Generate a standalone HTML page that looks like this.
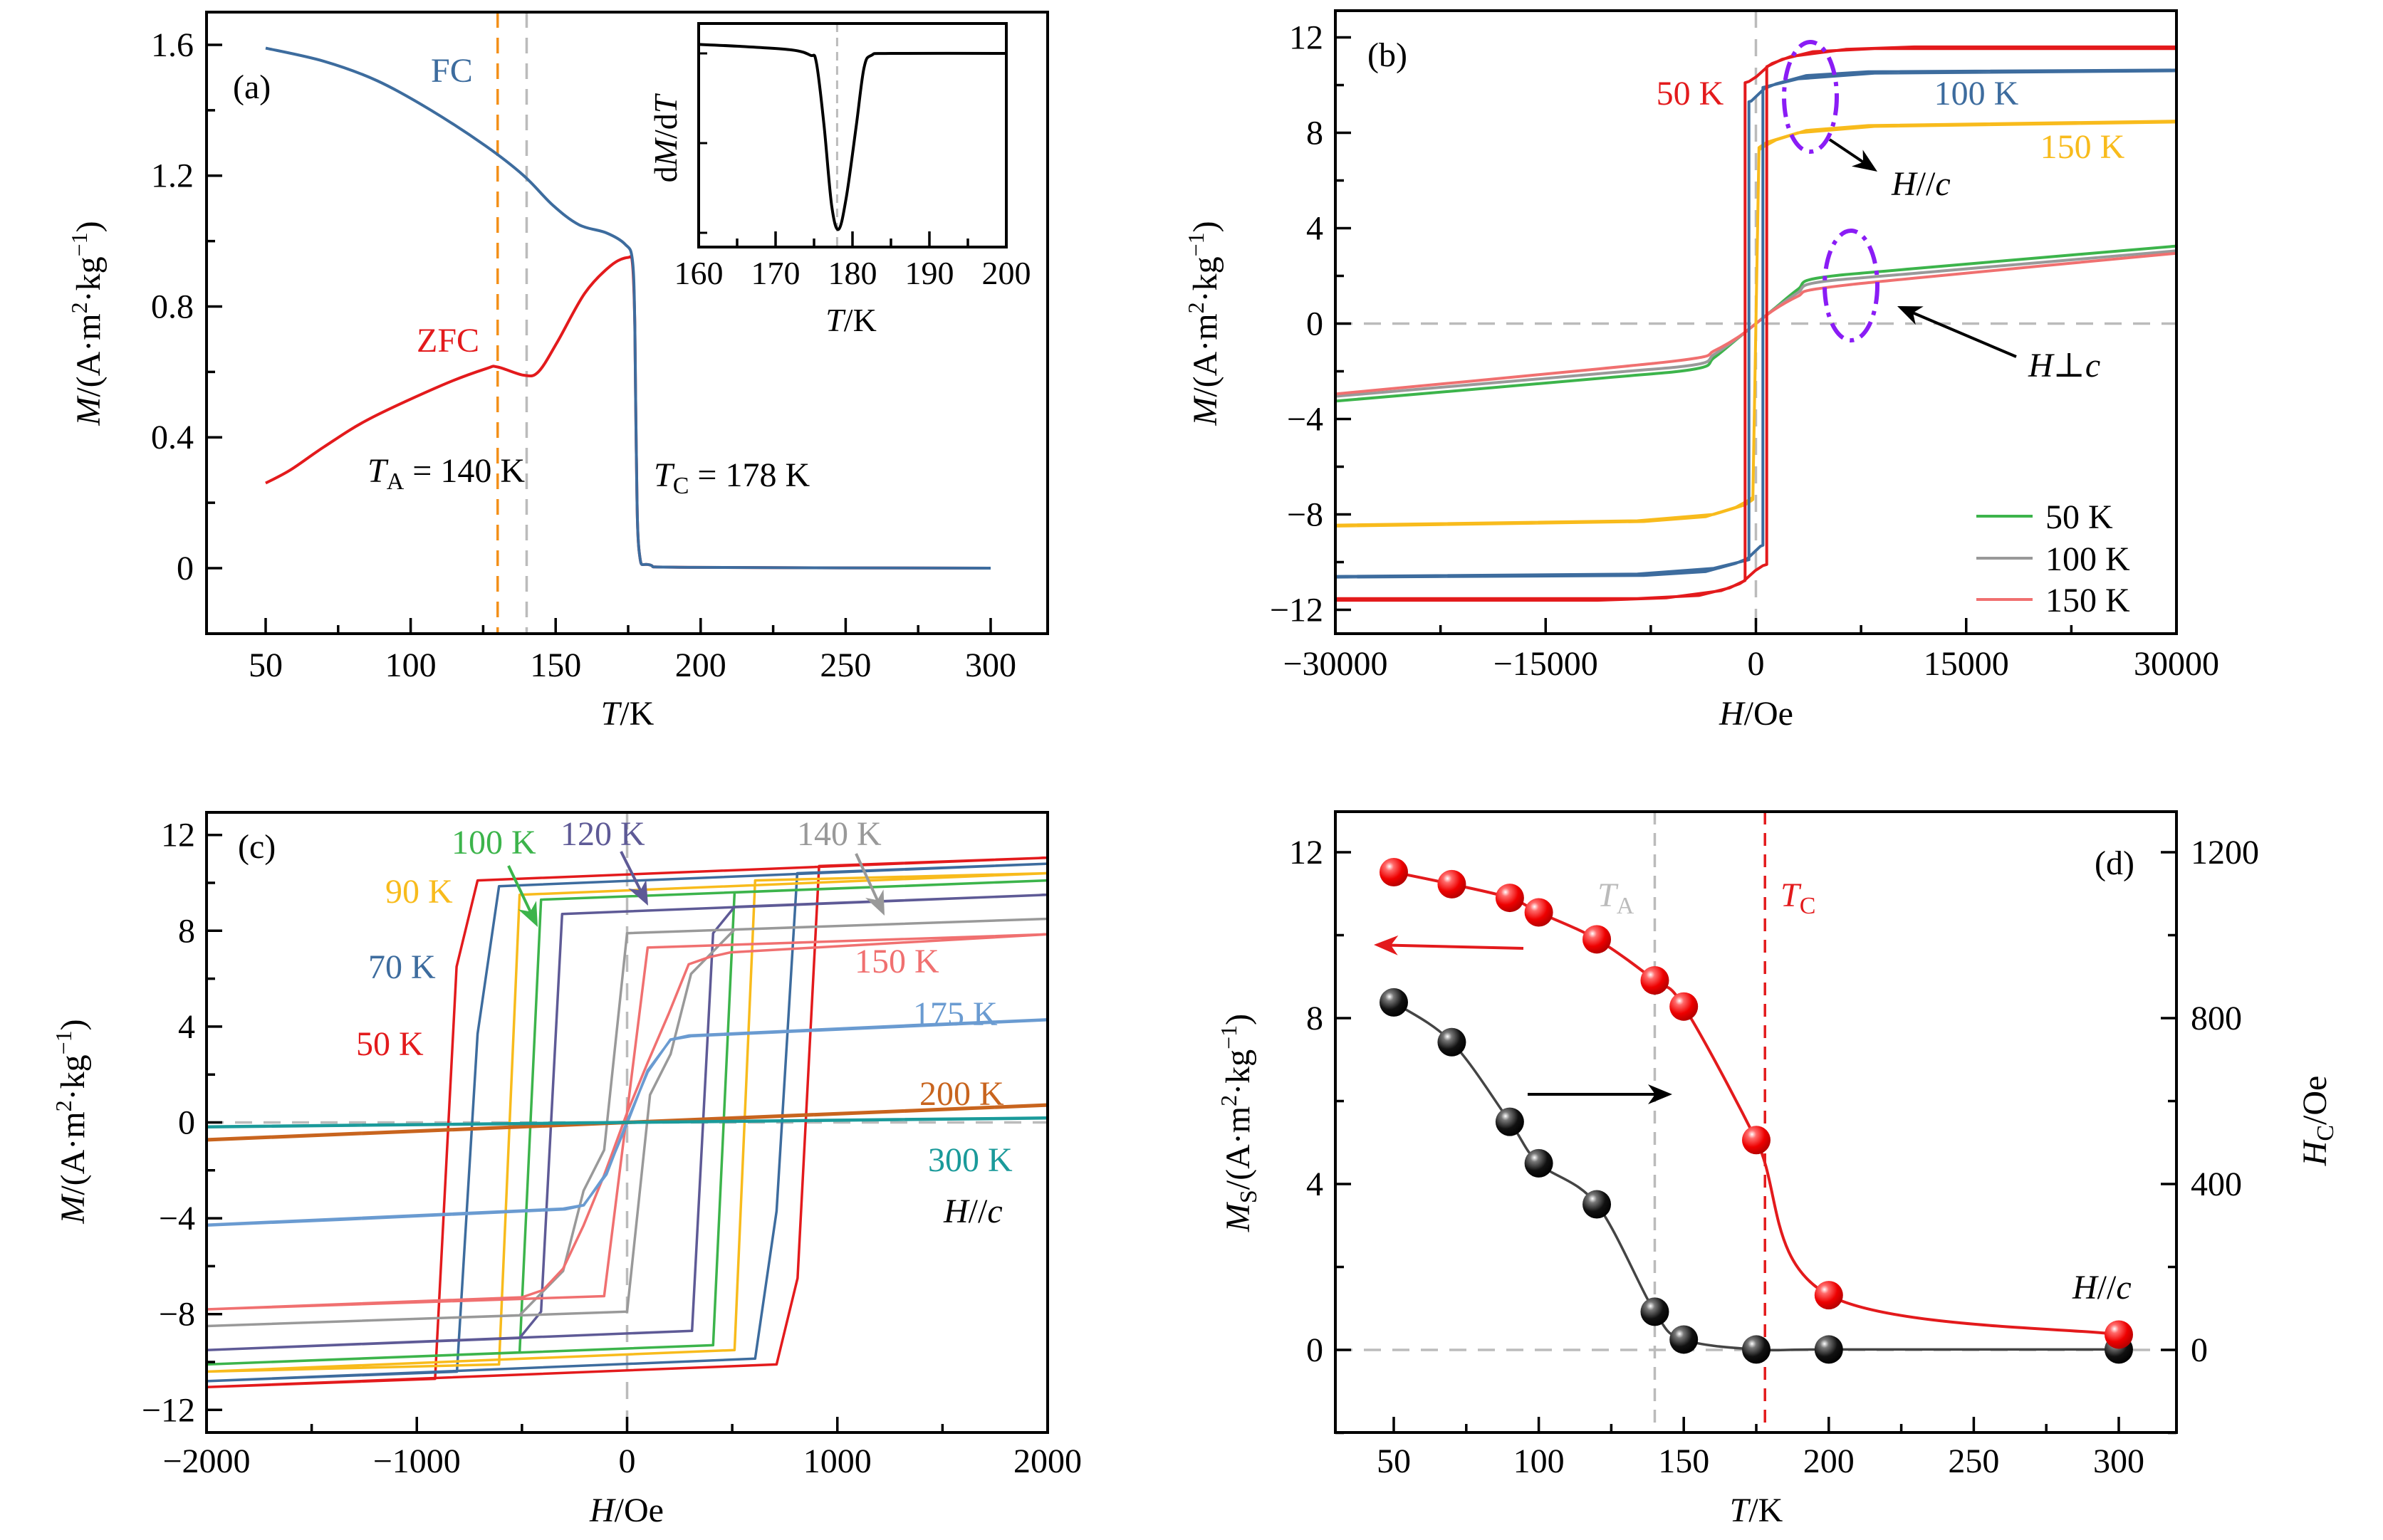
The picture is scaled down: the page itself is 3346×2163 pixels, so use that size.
<!DOCTYPE html>
<html><head><meta charset="utf-8"><style>
html,body{margin:0;padding:0;background:#fff;}
svg{display:block;font-family:"Liberation Serif","DejaVu Serif",serif;}
</style></head><body>
<svg id="chart" xmlns="http://www.w3.org/2000/svg" width="3346" height="2163" viewBox="0 0 3346 2163">
<defs>
<radialGradient id="gRed" cx="0.35" cy="0.3" r="0.75"><stop offset="0" stop-color="#fff"/><stop offset="0.2" stop-color="#ff6a6a"/><stop offset="0.6" stop-color="#ee0000"/><stop offset="1" stop-color="#b00000"/></radialGradient>
<radialGradient id="gBlk" cx="0.35" cy="0.3" r="0.75"><stop offset="0" stop-color="#fff"/><stop offset="0.2" stop-color="#777"/><stop offset="0.6" stop-color="#111"/><stop offset="1" stop-color="#000"/></radialGradient>
</defs>
</svg>
<script>
// ---------- data ----------
const fcT = [50,70,88.5,107,126,139,149,158,167.5,174,176.5,177.3,177.8,178.8,182.5,197.5,300];
const fcM = [1.59,1.55,1.49,1.40,1.29,1.20,1.11,1.05,1.025,0.99,0.94,0.74,0.36,0.05,0.01,0.0025,0];
const zfcT = [50,58.5,70,85.7,111,126,130,139,144,150.5,160,169,175,176.5,177.3,177.8,178.8,182.5,197.5,300];
const zfcM = [0.26,0.30,0.37,0.456,0.56,0.61,0.615,0.59,0.60,0.69,0.84,0.925,0.95,0.93,0.74,0.36,0.05,0.01,0.0025,0];
const insT = [160,165,172,174.5,175.3,176.3,177.3,178.2,179.2,180.5,181.5,182.5,185,200];
const insV = [0.05,0.04,0.02,-0.01,-0.05,-0.4,-0.85,-0.98,-0.8,-0.4,-0.08,-0.01,0,0];
const b50H = [30000,11300,6400,2500,1150,880,55,-500,-770,-770,-1870,-4070,-8460,-30000];
const b50M = [11.6,11.6,11.5,11.2,10.9,10.8,10.36,10.15,10.1,-10.77,-11.08,-11.4,-11.53,-11.53];
const b100H = [30000,8000,3600,1430,600,-330,-500,-500,-3000,-8460,-30000];
const b100M = [10.63,10.56,10.4,10.05,9.85,9.33,9.3,-9.9,-10.26,-10.5,-10.6];
const b150H = [30000,8000,3600,1430,440,220,-220,-770,-3000,-8460,-30000];
const b150M = [8.49,8.3,8.1,7.7,7.38,7.28,-7.38,-7.6,-8.0,-8.27,-8.45];
const perpH = [0,1300,3000,4300,11200,30000];
const perp50 = [0,0.62,1.44,1.9,2.3,3.25];
const perp100 = [0,0.6,1.3,1.72,2.1,3.05];
const perp150 = [0,0.58,1.15,1.45,1.9,2.95];
const c50H=[2000,-711,-811,-913,-2000], c50M=[11.05,10.1,6.5,-10.7,-11.05];
const c70H=[2000,-609,-711,-809,-2000], c70M=[10.8,9.86,3.7,-10.4,-10.8];
const c90H=[2000,-511,-609,-2000], c90M=[10.4,9.5,-10.1,-10.4];
const c100H=[2000,-409,-511,-2000], c100M=[10.1,9.3,-9.6,-10.1];
const c120H=[2000,-309,-409,-511,-2000], c120M=[9.5,8.7,-7.9,-9.0,-9.5];
const c140H=[2000,0,-109,-207,-304,-511,-2000], c140M=[8.5,7.9,-1.15,-2.85,-6.2,-8.05,-8.5];
const c150H=[2000,493,391,293,196,98,0,-109,-207,-304,-400,-500,-2000];
const c150M=[7.85,7.1,6.9,6.6,4.5,2.5,0.4,-2.2,-4.3,-6.1,-7.0,-7.3,-7.8];
const c150LH=[-2000,-109,98,2000], c150LM=[-7.8,-7.25,7.3,7.85];
const c175H=[2000,1354,293,206,98,0,-98,-207,-304,-2000], c175M=[4.3,4.06,3.63,3.46,2.1,0.05,-2.17,-3.45,-3.6,-4.27];
const c200H=[2000,-2000], c200M=[0.75,-0.7];
const c300H=[2000,-2000], c300M=[0.2,-0.17];
const dT = [50,70,90,100,120,140,150,175,200,300];
const dMs = [11.52,11.23,10.9,10.55,9.9,8.91,8.28,5.06,1.32,0.37];
const dHc = [838,742,550,450,351,92,25,1,1,1];
const aXT=[50,100,150,200,250,300], aYT=[0,0.4,0.8,1.2,1.6];
const bXT=[-30000,-15000,0,15000,30000], bYT=[-12,-8,-4,0,4,8,12];
const cXT=[-2000,-1000,0,1000,2000], cYT=[-12,-8,-4,0,4,8,12];
const dXT=[50,100,150,200,250,300], dYT=[0,4,8,12], dRT=[0,400,800,1200];
const insXT=[160,170,180,190,200];

// ---------- helpers ----------
const NS='http://www.w3.org/2000/svg';
const svg=document.getElementById('chart');
function mk(tag,attrs,parent){const e=document.createElementNS(NS,tag);for(const k in attrs)e.setAttribute(k,attrs[k]);(parent||svg).appendChild(e);return e;}
function fmtNeg(v){return String(v).replace('-','\u2212');}
function pathFrom(xs,ys,fx,fy){return xs.map((x,i)=>(i?'L':'M')+fx(x).toFixed(1)+','+fy(ys[i]).toFixed(1)).join(' ');}
function smoothPath(xs,ys,fx,fy){const P=xs.map((x,i)=>[fx(x),fy(ys[i])]);let d='M'+P[0][0]+','+P[0][1];
 for(let i=0;i<P.length-1;i++){const p0=P[Math.max(0,i-1)],p1=P[i],p2=P[i+1],p3=P[Math.min(P.length-1,i+2)];
 const c1=[p1[0]+(p2[0]-p0[0])/6,p1[1]+(p2[1]-p0[1])/6],c2=[p2[0]-(p3[0]-p1[0])/6,p2[1]-(p3[1]-p1[1])/6];
 d+=' C'+c1[0].toFixed(1)+','+c1[1].toFixed(1)+' '+c2[0].toFixed(1)+','+c2[1].toFixed(1)+' '+p2[0].toFixed(1)+','+p2[1].toFixed(1);}return d;}
function txt(s,x,y,attrs,name){const t=mk('text',Object.assign({x:x,y:y,'font-size':48},attrs||{}));t.innerHTML=s;
 
 return t;}
function frame(x0,y0,x1,y1,name){const r=mk('rect',{x:x0,y:y0,width:x1-x0,height:y1-y0,fill:'none',stroke:'#000','stroke-width':4});
 
 }
function xTicks(vals,minor,fx,yb,labY,name,fs){const g=mk('g',{});
 
 
 let d='';minor.forEach(v=>{d+='M'+fx(v)+','+yb+' v-12 ';});vals.forEach(v=>{d+='M'+fx(v)+','+yb+' v-22 ';
 const t=mk('text',{x:fx(v),y:labY,'text-anchor':'middle','font-size':fs||48},g);t.textContent=fmtNeg(v);});
 mk('path',{d:d,stroke:'#000','stroke-width':3.5,fill:'none'},g);}
function yTicks(vals,minor,fy,xb,dir,labX,anchor,name,fmt){const g=mk('g',{});
 
 
 let d='';minor.forEach(v=>{d+='M'+xb+','+fy(v)+' h'+(12*dir)+' ';});vals.forEach(v=>{d+='M'+xb+','+fy(v)+' h'+(22*dir)+' ';
 const t=mk('text',{x:labX,y:fy(v)+16,'text-anchor':anchor,'font-size':48},g);t.textContent=fmt?fmt(v):fmtNeg(v);});
 mk('path',{d:d,stroke:'#000','stroke-width':3.5,fill:'none'},g);}
function rng(a,b,s){const r=[];for(let v=a;v<=b+1e-9;v+=s)r.push(+v.toFixed(6));return r;}
function curve(d,color,w,name,dash){const p=mk('path',{d:d,stroke:color,'stroke-width':w,fill:'none','stroke-linejoin':'round'});if(dash)p.setAttribute('stroke-dasharray',dash);
 
 return p;}
function arrow(x1,y1,x2,y2,color,name){const g=mk('g',{});
 
 
 const a=Math.atan2(y2-y1,x2-x1),L=34,W=14;const bx=x2-L*Math.cos(a),by=y2-L*Math.sin(a);
 mk('line',{x1:x1,y1:y1,x2:bx+10*Math.cos(a),y2:by+10*Math.sin(a),stroke:color,'stroke-width':4},g);
 const px=-Math.sin(a),py=Math.cos(a);
 mk('path',{d:`M${x2},${y2} L${bx+W*px},${by+W*py} L${bx+10*Math.cos(a)},${by+10*Math.sin(a)} L${bx-W*px},${by-W*py} Z`,fill:color},g);}
const ylab='<tspan font-style="italic">M</tspan>/(A·m<tspan dy="-18" font-size="32">2</tspan><tspan dy="18">·kg</tspan><tspan dy="-18" font-size="32">−1</tspan><tspan dy="18">)</tspan>';

// ---------- panel a ----------
const ax=T=>373+(T-50)*4.072, ay=M=>798-M*459.4;
curve(`M${ax(130)},17 V890`,'#f39019',3.5,'ta-orange-dashed-line','22,14');
curve(`M${ax(140)},17 V890`,'#bbbbbb',3.5,'ta-gray-dashed-line','22,14');
curve(smoothPath(zfcT,zfcM,ax,ay),'#e31a1c',4,'zfc-curve');
curve(smoothPath(fcT,fcM,ax,ay),'#3d6c9e',4,'fc-curve');
frame(290,17,1471,890,'panel-a-frame');
xTicks(aXT,rng(25,325,25).filter(v=>v>=30&&v<=315),ax,890,950,'panel-a-x-ticks');
yTicks(aYT,rng(-0.2,1.6,0.2).filter(v=>v>-0.19),ay,290,1,272,'end','panel-a-y-ticks',v=>String(v));
txt('(a)',327,138,{},'panel-a-label');
txt('FC',605,115,{fill:'#3d6c9e'},'fc-label');
txt('ZFC',585,494,{fill:'#e31a1c'},'zfc-label');
txt('<tspan font-style="italic">T</tspan><tspan font-size="34" dy="10">A</tspan><tspan dy="-10"> = 140 K</tspan>',516,677,{},'ta-annotation');
txt('<tspan font-style="italic">T</tspan><tspan font-size="34" dy="10">C</tspan><tspan dy="-10"> = 178 K</tspan>',918,683,{},'tc-annotation');
txt('<tspan font-style="italic">T</tspan>/K',881,1018,{'text-anchor':'middle'},'panel-a-x-title');
txt(ylab,0,0,{transform:'translate(140,454) rotate(-90)','text-anchor':'middle'},'panel-a-y-title');
const ix=T=>981+(T-160)*10.8, iy=v=>75-v*252;
mk('rect',{x:981,y:33,width:432,height:314,fill:'#fff',stroke:'none'});
curve(`M${ix(178)},33 V347`,'#bbbbbb',3,'inset-tc-dashed-line','12,8');
curve(smoothPath(insT,insV,ix,iy),'#000',4,'inset-dmdt-curve');
frame(981,33,1413,347,'inset-frame');
xTicks(insXT,[165,175,185,195],ix,347,399,'inset-x-ticks',46);
curve(`M981,75 h12 M981,201 h12 M981,327 h12`,'#000',3,'inset-y-tick-marks');
txt('d<tspan font-style="italic">M</tspan>/d<tspan font-style="italic">T</tspan>',0,0,{transform:'translate(950,195) rotate(-90)','text-anchor':'middle','font-size':46},'inset-y-title');
txt('<tspan font-style="italic">T</tspan>/K',1195,465,{'text-anchor':'middle','font-size':46},'inset-x-title');

// ---------- panel b ----------
const bx=H=>1875+(H+30000)*1181/60000, by=M=>454.5-M*33.5;
curve(`M${bx(0)},15 V890 M1875,${by(0)} H3056`,'#bbbbbb',3.5,'panel-b-zero-lines','24,16');
function loopB(H,M,color,name){const d=pathFrom(H,M,bx,by)+' '+pathFrom(H.map(h=>-h),M.map(m=>-m),bx,by);curve(d,color,4,name);}
[[perp50,'#3cb44b','perp-50k-curve'],[perp100,'#999999','perp-100k-curve'],[perp150,'#f07070','perp-150k-curve']].forEach(([m,c,n])=>{
 const H=perpH.map(h=>-h).reverse().concat(perpH.slice(1)), Mv=m.map(v=>-v).reverse().concat(m.slice(1));
 curve(smoothPath(H,Mv,bx,by),c,4,n);});
loopB(b150H,b150M,'#f8bb1c','loop-150k-par');
loopB(b100H,b100M,'#3d6c9e','loop-100k-par');
loopB(b50H,b50M,'#e31a1c','loop-50k-par');
frame(1875,15,3056,890,'panel-b-frame');
xTicks(bXT,[-22500,-7500,7500,22500],bx,890,948,'panel-b-x-ticks');
yTicks(bYT,rng(-12,12,2),by,1875,1,1858,'end','panel-b-y-ticks');
txt('(b)',1920,93,{},'panel-b-label');
txt('50 K',2373,147,{fill:'#e31a1c','text-anchor':'middle'},'label-50k-b');
txt('100 K',2775,147,{fill:'#3d6c9e','text-anchor':'middle'},'label-100k-b');
txt('150 K',2924,222,{fill:'#f8bb1c','text-anchor':'middle'},'label-150k-b');
txt('<tspan font-style="italic">H</tspan>//<tspan font-style="italic">c</tspan>',2656,274,{},'h-par-c-label');
txt('<tspan font-style="italic">H</tspan>⊥<tspan font-style="italic">c</tspan>',2848,529,{},'h-perp-c-label');
[[2542,136,'ellipse-par'],[2599,401,'ellipse-perp']].forEach(([cx,cy,n])=>{const e=mk('ellipse',{cx:cx,cy:cy,rx:37,ry:77,fill:'none',stroke:'#8a1cf5','stroke-width':6,'stroke-dasharray':'26,10,6,10'});
 
 });
arrow(2569,196,2636,241,'#000','arrow-par');
arrow(2831,501,2664,430,'#000','arrow-perp');
[['50 K','#3cb44b',725],['100 K','#999999',784],['150 K','#f07070',842]].forEach(([l,c,y])=>{const g=mk('g',{});
 
 
 mk('line',{x1:2775,x2:2854,y1:y,y2:y,stroke:c,'stroke-width':4},g);
 const t=mk('text',{x:2872,y:y+17,'font-size':48},g);t.textContent=l;});
txt('<tspan font-style="italic">H</tspan>/Oe',2466,1018,{'text-anchor':'middle'},'panel-b-x-title');
txt(ylab,0,0,{transform:'translate(1708,454) rotate(-90)','text-anchor':'middle'},'panel-b-y-title');

// ---------- panel c ----------
const cx=H=>880.5+H*0.29525, cy=M=>1576.5-M*33.65;
curve(`M${cx(0)},1141 V2012 M290,${cy(0)} H1471`,'#bbbbbb',3.5,'panel-c-zero-lines','24,16');
function loopC(H,M,color,name,LH,LM){const lh=LH||H.map(h=>-h),lm=LM||M.map(m=>-m);
 curve(pathFrom(H,M,cx,cy)+' '+pathFrom(lh,lm,cx,cy),color,3.5,name);}
loopC(c50H,c50M,'#e31a1c','loop-50k');
loopC(c70H,c70M,'#3d6c9e','loop-70k');
loopC(c90H,c90M,'#f8bb1c','loop-90k');
loopC(c100H,c100M,'#3cb44b','loop-100k');
loopC(c120H,c120M,'#5e5a96','loop-120k');
loopC(c140H,c140M,'#999999','loop-140k');
loopC(c150H,c150M,'#f07070','loop-150k',c150LH,c150LM);
loopC(c175H,c175M,'#6a9bd1','loop-175k');
loopC(c200H,c200M,'#c8641e','loop-200k');
loopC(c300H,c300M,'#1a9a9a','loop-300k');
frame(290,1141,1471,2012,'panel-c-frame');
xTicks(cXT,[-1500,-500,500,1500],cx,2012,2068,'panel-c-x-ticks');
yTicks(cYT,rng(-12,12,2),cy,290,1,274,'end','panel-c-y-ticks');
txt('(c)',334,1205,{},'panel-c-label');
txt('100 K',634,1199,{fill:'#3cb44b'},'label-100k-c');
txt('120 K',787,1187,{fill:'#5e5a96'},'label-120k-c');
txt('140 K',1119,1187,{fill:'#999999'},'label-140k-c');
txt('90 K',541,1268,{fill:'#f8bb1c'},'label-90k-c');
txt('70 K',517,1374,{fill:'#3d6c9e'},'label-70k-c');
txt('50 K',500,1482,{fill:'#e31a1c'},'label-50k-c');
txt('150 K',1200,1366,{fill:'#f07070'},'label-150k-c');
txt('175 K',1282,1440,{fill:'#6a9bd1'},'label-175k-c');
txt('200 K',1291,1552,{fill:'#c8641e'},'label-200k-c');
txt('300 K',1303,1645,{fill:'#1a9a9a'},'label-300k-c');
txt('<tspan font-style="italic">H</tspan>//<tspan font-style="italic">c</tspan>',1325,1717,{},'h-par-c-label-c');
arrow(714,1216,755,1302,'#3cb44b','arrow-100k');
arrow(872,1196,910,1272,'#5e5a96','arrow-120k');
arrow(1202,1199,1242,1286,'#999999','arrow-140k');
txt('<tspan font-style="italic">H</tspan>/Oe',880,2137,{'text-anchor':'middle'},'panel-c-x-title');
txt(ylab,0,0,{transform:'translate(118,1575) rotate(-90)','text-anchor':'middle'},'panel-c-y-title');

// ---------- panel d ----------
const dx=T=>1957+(T-50)*4.072, dy=M=>1896-M*58.25, dyR=H=>1896-H*0.5825;
curve(`M1875,${dy(0)} H3056`,'#bbbbbb',3.5,'panel-d-zero-line','24,16');
curve(`M${dx(140)},1140 V2012`,'#bbbbbb',3.5,'ta-dashed-line-d','18,12');
curve(`M${dx(178)},1140 V2012`,'#e31a1c',3.5,'tc-dashed-line-d','18,12');
curve(smoothPath(dT,dHc,dx,dyR),'#444',3.5,'hc-curve');
curve(smoothPath(dT,dMs,dx,dy),'#e31a1c',4,'ms-curve');
dT.forEach((T,i)=>{const c=mk('circle',{cx:dx(T),cy:dyR(dHc[i]),r:20,fill:'url(#gBlk)'});
 
 });
dT.forEach((T,i)=>{const c=mk('circle',{cx:dx(T),cy:dy(dMs[i]),r:20,fill:'url(#gRed)'});
 
 });
frame(1875,1140,3056,2012,'panel-d-frame');
xTicks(dXT,rng(25,325,25).filter(v=>v>=30&&v<=315),dx,2012,2068,'panel-d-x-ticks');
yTicks(dYT,rng(-2,12,2),dy,1875,1,1858,'end','panel-d-left-y-ticks');
yTicks(dRT,rng(-200,1200,200),dyR,3056,-1,3076,'start','panel-d-right-y-ticks');
txt('(d)',2997,1228,{'text-anchor':'end'},'panel-d-label');
txt('<tspan font-style="italic">T</tspan><tspan font-size="34" dy="10">A</tspan>',2243,1273,{fill:'#bbbbbb'},'ta-label-d');
txt('<tspan font-style="italic">T</tspan><tspan font-size="34" dy="10">C</tspan>',2500,1273,{fill:'#e31a1c'},'tc-label-d');
arrow(2139,1332,1929,1327,'#e31a1c','arrow-left-axis');
arrow(2145,1537,2348,1537,'#000','arrow-right-axis');
txt('<tspan font-style="italic">H</tspan>//<tspan font-style="italic">c</tspan>',2910,1824,{},'h-par-c-label-d');
txt('<tspan font-style="italic">T</tspan>/K',2466,2137,{'text-anchor':'middle'},'panel-d-x-title');
txt('<tspan font-style="italic">M</tspan><tspan font-size="34" dy="10">S</tspan><tspan dy="-10">/(A·m</tspan><tspan dy="-18" font-size="32">2</tspan><tspan dy="18">·kg</tspan><tspan dy="-18" font-size="32">−1</tspan><tspan dy="18">)</tspan>',0,0,{transform:'translate(1754,1577) rotate(-90)','text-anchor':'middle'},'panel-d-left-y-title');
txt('<tspan font-style="italic">H</tspan><tspan font-size="34" dy="10">C</tspan><tspan dy="-10">/Oe</tspan>',0,0,{transform:'translate(3266,1574) rotate(-90)','text-anchor':'middle'},'panel-d-right-y-title');
</script>
</body></html>
